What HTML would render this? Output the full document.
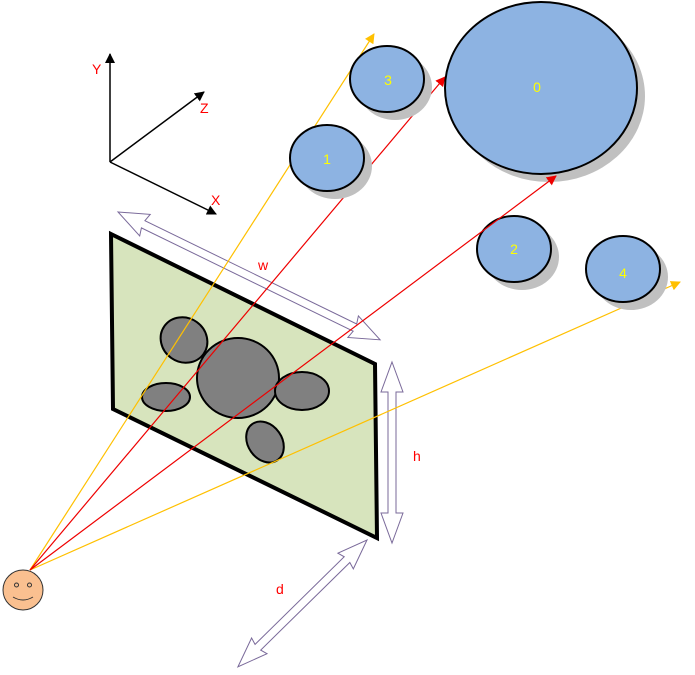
<!DOCTYPE html>
<html><head><style>body{margin:0;background:#fff}svg{display:block}text{font-family:"Liberation Sans",sans-serif;font-size:14px}</style></head>
<body>
<svg width="695" height="675" viewBox="0 0 695 675" xmlns="http://www.w3.org/2000/svg">
<defs>
<marker id="ab" markerWidth="10" markerHeight="10" refX="9" refY="5" orient="auto" markerUnits="userSpaceOnUse"><path d="M0,0L10,5L0,10z" fill="#000"/></marker>
<marker id="ay" markerWidth="10" markerHeight="10" refX="9" refY="5" orient="auto" markerUnits="userSpaceOnUse"><path d="M0,0L10,5L0,10z" fill="#ffc000"/></marker>
<marker id="ar" markerWidth="10" markerHeight="10" refX="9" refY="5" orient="auto" markerUnits="userSpaceOnUse"><path d="M0,0L10,5L0,10z" fill="#e00"/></marker>
</defs>
<g stroke="#000" stroke-width="1.5" fill="none">
<line x1="110" y1="162" x2="110" y2="54" marker-end="url(#ab)"/>
<line x1="110" y1="162" x2="204" y2="92" marker-end="url(#ab)"/>
<line x1="110" y1="162" x2="216" y2="214" marker-end="url(#ab)"/>
</g>
<text x="92" y="74" fill="#f00">Y</text>
<text x="200" y="113" fill="#f00">Z</text>
<text x="211" y="205" fill="#f00">X</text>
<polygon points="111,234 375,364 377,538 113,409" fill="#d7e4bd" stroke="#000" stroke-width="4"/>
<g fill="#808080" stroke="#000" stroke-width="2">
<ellipse cx="184" cy="340" rx="24" ry="22" transform="rotate(35 184 340)"/>
<ellipse cx="238" cy="378" rx="41" ry="40"/>
<ellipse cx="166" cy="397" rx="24" ry="14"/>
<ellipse cx="302" cy="391" rx="27" ry="19"/>
<ellipse cx="265" cy="442" rx="17" ry="22" transform="rotate(-35 265 442)"/>
</g>
<g fill="#fff" stroke="#7a6a9a" stroke-width="1">
<polygon transform="translate(118,212) rotate(26)" points="0,0 30,-12 28,-4 263.6,-4 261.6,-12 291.6,0 261.6,12 263.6,4 28,4 30,12"/>
<polygon transform="translate(392,362) rotate(90)" points="0,0 30,-11 30,-4 151,-4 151,-11 181,0 151,11 151,4 30,4 30,11"/>
<polygon transform="translate(367,540) rotate(135.5)" points="0,0 30,-11 28,-4 153,-4 151,-11 181,0 151,11 153,4 28,4 30,11"/>
</g>
<text x="258" y="270" fill="#f00">w</text>
<text x="413" y="461" fill="#f00">h</text>
<text x="276" y="594" fill="#f00">d</text>
<g fill="none" stroke-width="1.2">
<line x1="30" y1="570" x2="374" y2="34" stroke="#ffc000" marker-end="url(#ay)"/>
<line x1="30" y1="570" x2="680" y2="282" stroke="#ffc000" marker-end="url(#ay)"/>
<line x1="30" y1="570" x2="445" y2="77" stroke="#e00" marker-end="url(#ar)"/>
</g>
<g fill="#c0c0c0">
<ellipse cx="395" cy="87" rx="37" ry="33"/>
<ellipse cx="549" cy="96" rx="96" ry="86"/>
<ellipse cx="335" cy="166" rx="37" ry="33"/>
<ellipse cx="522" cy="257" rx="37" ry="33"/>
<ellipse cx="631" cy="277" rx="37" ry="33"/>
</g>
<g fill="#8db3e2" stroke="#000" stroke-width="2">
<ellipse cx="387" cy="79" rx="37" ry="33"/>
<ellipse cx="541" cy="88" rx="96" ry="86"/>
<ellipse cx="327" cy="158" rx="37" ry="33"/>
<ellipse cx="514" cy="249" rx="37" ry="33"/>
<ellipse cx="623" cy="269" rx="37" ry="33"/>
</g>
<line x1="30" y1="570" x2="556" y2="176" stroke="#e00" stroke-width="1.2" marker-end="url(#ar)"/>
<g fill="#ffff00" text-anchor="middle">
<text x="388" y="85">3</text>
<text x="537" y="92">0</text>
<text x="327" y="164">1</text>
<text x="514" y="254">2</text>
<text x="623" y="278">4</text>
</g>
<circle cx="23" cy="590" r="20" fill="#fac090" stroke="#333" stroke-width="1"/>
<circle cx="16.5" cy="585" r="2" fill="none" stroke="#333"/>
<circle cx="29.5" cy="585" r="2" fill="none" stroke="#333"/>
<path d="M13,597 Q23,603 33,597" fill="none" stroke="#333"/>
</svg>
</body></html>
